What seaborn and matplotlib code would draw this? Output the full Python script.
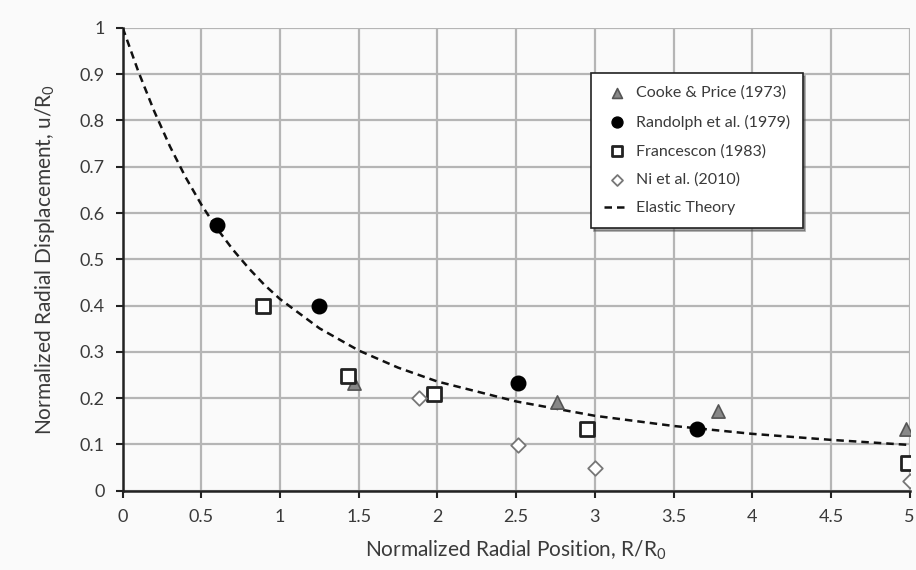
import numpy as np
import pandas as pd
import matplotlib
matplotlib.use("Agg")
import matplotlib.pyplot as plt
import seaborn as sns

cooke_x = [1.47, 2.76, 3.78, 4.98]
cooke_y = [0.232, 0.192, 0.172, 0.134]

randolph_x = [0.60, 1.25, 2.51, 3.65]
randolph_y = [0.575, 0.400, 0.232, 0.133]

francescon_x = [0.89, 1.43, 1.975, 2.95, 4.99]
francescon_y = [0.400, 0.249, 0.209, 0.133, 0.060]

ni_x = [1.88, 2.51, 3.00, 5.00]
ni_y = [0.200, 0.099, 0.050, 0.022]

# Elastic theory curve
elastic_x = [0.0, 0.1, 0.2, 0.3, 0.4, 0.5, 0.6, 0.7, 0.8, 0.9, 1.0, 1.25, 1.5,
             1.75, 2.0, 2.5, 3.0, 3.5, 4.0, 4.5, 5.0]
elastic_y = [1.000, 0.905, 0.820, 0.744, 0.677, 0.618, 0.566, 0.521, 0.481,
             0.445, 0.414, 0.351, 0.303, 0.266, 0.236, 0.193, 0.162, 0.140,
             0.123, 0.110, 0.099]

sns.set_theme(style="white")
plt.rcParams['font.family'] = ['Lato', 'DejaVu Sans']
plt.rcParams['mathtext.fontset'] = 'custom'
plt.rcParams['mathtext.rm'] = 'Lato'
plt.rcParams['mathtext.it'] = 'Lato'

fig = plt.figure(figsize=(9.16, 5.70), dpi=100)
fig.patch.set_facecolor("#fafafa")
ax = fig.add_axes([0.134, 0.139, 0.859, 0.812])
ax.set_facecolor("#fafafa")

elastic_df = pd.DataFrame({"x": elastic_x, "y": elastic_y})
sns.lineplot(data=elastic_df, x="x", y="y", ax=ax, color="#111111",
             linestyle=(0, (3, 2)), linewidth=1.8, label="Elastic Theory",
             zorder=3)

sns.scatterplot(x=cooke_x, y=cooke_y, ax=ax, marker="^", s=90,
                color="#888888", edgecolor="#555555", linewidth=1.2,
                label="Cooke & Price (1973)", zorder=4)
sns.scatterplot(x=randolph_x, y=randolph_y, ax=ax, marker="o", s=110,
                color="black", edgecolor="black", linewidth=1,
                label="Randolph et al. (1979)", zorder=4)
sns.scatterplot(x=francescon_x, y=francescon_y, ax=ax, marker="s", s=110,
                color="white", edgecolor="#222222", linewidth=2,
                label="Francescon (1983)", zorder=4)
sns.scatterplot(x=ni_x, y=ni_y, ax=ax, marker="D", s=55,
                color="white", edgecolor="#777777", linewidth=1.3,
                label="Ni et al. (2010)", zorder=4)

ax.set_xlim(0, 5)
ax.set_ylim(0, 1)
ax.set_xticks(np.arange(0, 5.01, 0.5))
ax.set_xticklabels(["0", "0.5", "1", "1.5", "2", "2.5", "3", "3.5", "4", "4.5", "5"])
ax.set_yticks(np.arange(0, 1.01, 0.1))
ax.set_yticklabels(["0", "0.1", "0.2", "0.3", "0.4", "0.5", "0.6", "0.7", "0.8", "0.9", "1"])

ax.grid(True, color="#b5b5b5", linewidth=1.6)
ax.set_axisbelow(True)
for side in ["top", "right"]:
    ax.spines[side].set_visible(False)
for side in ["left", "bottom"]:
    ax.spines[side].set_color("#222222")
    ax.spines[side].set_linewidth(1.8)

ax.tick_params(axis="both", direction="out", length=5, width=1.5,
               color="#222222", labelsize=13, labelcolor="#3a3a3a", pad=8)
ax.tick_params(left=True, bottom=True)

ax.set_xlabel("Normalized Radial Position, R/R$_0$", fontsize=15,
              color="#3a3a3a", labelpad=10)
ax.set_ylabel("Normalized Radial Displacement, u/R$_0$", fontsize=15,
              color="#3a3a3a", labelpad=16)

# legend order as in reference
handles, labels = ax.get_legend_handles_labels()
order = ["Cooke & Price (1973)", "Randolph et al. (1979)", "Francescon (1983)",
         "Ni et al. (2010)", "Elastic Theory"]
hmap = dict(zip(labels, handles))
leg = ax.legend([hmap[k] for k in order], order, loc="upper left",
                bbox_to_anchor=(0.585, 0.92), frameon=True, fancybox=False,
                shadow=True, edgecolor="#222222", facecolor="white",
                fontsize=11.5, handlelength=1.6, labelspacing=0.9,
                borderpad=0.8, handletextpad=0.4, markerscale=0.75)
leg.get_frame().set_linewidth(1.2)
for t in leg.get_texts():
    t.set_color("#3a3a3a")

fig.savefig("out.png", dpi=100, facecolor=fig.get_facecolor())
